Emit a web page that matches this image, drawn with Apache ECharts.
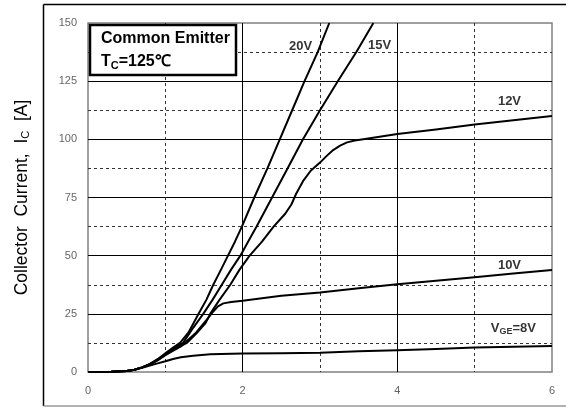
<!DOCTYPE html>
<html><head><meta charset="utf-8">
<script src="https://cdn.jsdelivr.net/npm/echarts@6/dist/echarts.min.js"></script>
<style>html,body{margin:0;padding:0;background:#fff}#c{width:566px;height:409px}</style>
</head><body><div id="c"></div>
<script>
// ---- data (V_CE [V], I_C [A]) ----
const vge20 = [[0,0],[0.3,0.1],[0.5,0.4],[0.6,1],[0.7,2],[0.8,3.5],[0.9,5.5],[1.0,8],[1.1,10.5],[1.19,12.5],[1.3,17],[1.43,25],[1.53,31],[1.62,37.5],[1.72,44],[1.81,50],[1.9,56],[1.99,62.5],[2.15,75],[2.32,87.5],[2.48,100],[2.64,112.5],[2.80,125],[2.97,137.5],[3.12,150]];
const vge15 = [[0,0],[0.3,0.1],[0.5,0.4],[0.6,1],[0.7,2],[0.8,3.4],[0.9,5.3],[1.0,7.7],[1.1,10],[1.23,12.5],[1.36,19],[1.49,25],[1.61,31],[1.73,37.5],[1.85,44],[1.97,50],[2.07,56],[2.18,62.5],[2.38,75],[2.58,87.5],[2.78,100],[3.0,112.5],[3.23,125],[3.47,137.5],[3.69,150]];
const vge12 = [[0,0],[0.3,0.1],[0.5,0.4],[0.6,1],[0.7,2],[0.8,3.3],[0.9,5.1],[1.0,7.4],[1.1,9.5],[1.28,12.5],[1.4,16.5],[1.52,21],[1.58,25],[1.7,31],[1.84,37.5],[1.96,44],[2.09,50],[2.25,56],[2.40,62.5],[2.55,68],[2.63,72],[2.69,76.5],[2.78,82],[2.88,86.5],[3.0,90],[3.09,93],[3.17,95.4],[3.26,97.3],[3.35,98.7],[3.45,99.5],[3.56,100],[3.75,101],[4.0,102.3],[4.5,104.2],[5.0,106.4],[5.5,108.2],[6,110]];
const vge10 = [[0,0],[0.3,0.1],[0.5,0.4],[0.6,1],[0.7,2],[0.8,3.2],[0.9,5],[1.0,7.2],[1.2,11],[1.4,17],[1.55,23],[1.62,26],[1.68,28.2],[1.75,29.5],[1.85,30.1],[2.0,30.6],[2.5,32.8],[3,34.2],[3.5,36],[4,37.7],[4.5,39.2],[5,40.7],[5.5,42.3],[6,43.8]];
const vge8 = [[0,0],[0.3,0.1],[0.5,0.4],[0.6,1],[0.7,1.8],[0.8,2.8],[0.9,3.7],[1.0,4.6],[1.1,5.6],[1.2,6.3],[1.36,7.0],[1.58,7.6],[2.0,7.9],[2.5,8.1],[3,8.3],[3.5,8.9],[4,9.4],[4.5,9.9],[5,10.5],[5.5,10.9],[6,11.2]];
const curveNames = ['20V','15V','12V','10V','8V'];
const curveLabels = ['20V','15V','12V','10V','{b|V}{s|GE}{b|=8V}'];
const labelAt = [[2.75,140.1],[3.77,140.5],[5.45,116.2],[5.45,45.6],[5.5,18.8]];
const xTickLabels = ['0','2','4','6'];
const yTickLabels = ['0','25','50','75','100','125','150'];

const chart = echarts.init(document.getElementById('c'));
const FONT = '"Liberation Sans", Arial, sans-serif';
const curves = [vge20, vge15, vge12, vge10, vge8];
const series = curves.map((d,i)=>({
  type:'line', name:curveNames[i], data:d, showSymbol:false, smooth:false,
  lineStyle:{color:'#000', width:2, join:'round'}, clip:true, animation:false, z:3
}));
series.push({
  type:'scatter', symbolSize:0, animation:false, silent:true, z:4,
  data: labelAt.map((p,i)=>({value:p, name:curveLabels[i]})),
  label:{show:true, position:'inside', formatter:p=>p.name, color:'#000',
    fontFamily:FONT, fontWeight:'bold', fontSize:13,
    rich:{b:{fontFamily:FONT,fontWeight:'bold',fontSize:13,color:'#000'},
          s:{fontFamily:FONT,fontWeight:'bold',fontSize:9,color:'#000',verticalAlign:'bottom',padding:[6,0,0,0]}}}
});

const minorLine = {show:true, lineStyle:{color:'#333', width:1, type:[3,3]}};
chart.setOption({
  animation:false,
  backgroundColor:'#fff',
  grid:{left:88, right:14, top:23, bottom:37, show:true, borderColor:'#808080', borderWidth:1.5, backgroundColor:'transparent'},
  xAxis:{type:'value', min:0, max:6, interval:2,
    axisLine:{show:false}, axisTick:{show:false},
    axisLabel:{color:'#666', fontFamily:FONT, fontSize:11, margin:13,
      formatter:(v)=>xTickLabels[Math.round(v/2)]},
    splitLine:{show:true, showMinLine:false, showMaxLine:false, lineStyle:{color:'#000', width:1}},
    minorTick:{show:false, splitNumber:2}, minorSplitLine:minorLine},
  yAxis:{type:'value', min:0, max:150, interval:25,
    axisLine:{show:false}, axisTick:{show:false},
    axisLabel:{color:'#666', fontFamily:FONT, fontSize:11, margin:11,
      formatter:(v)=>yTickLabels[Math.round(v/25)]},
    splitLine:{show:true, showMinLine:false, showMaxLine:false, lineStyle:{color:'#000', width:1}},
    minorTick:{show:false, splitNumber:2}, minorSplitLine:minorLine,
    name:'{n|Collector  Current,  I}{s|C}{n|  [A]}', nameLocation:'middle', nameGap:57, nameRotate:90,
    nameTextStyle:{rich:{n:{fontFamily:FONT, fontSize:17.5, color:'#000'}, s:{fontFamily:FONT, fontSize:11, color:'#000', verticalAlign:'bottom', padding:[7,0,0,0]}}}
  },
  series:series,
  graphic:[
    {type:'line', shape:{x1:43.5,y1:4.5,x2:566,y2:4.5}, style:{stroke:'#000',lineWidth:1.5}},
    {type:'line', shape:{x1:43.5,y1:4.5,x2:43.5,y2:406}, style:{stroke:'#000',lineWidth:1.5}},
    {type:'line', shape:{x1:43.5,y1:406,x2:566,y2:406}, style:{stroke:'#999',lineWidth:1.5}},
    {type:'rect', shape:{x:90,y:25,width:146,height:50}, style:{fill:'#fff',stroke:'#000',lineWidth:2.5}, z:10},
    {type:'text', x:101, y:31, z:11, style:{text:'Common Emitter', fill:'#000', font:'bold 16px '+FONT}},
    {type:'text', x:101, y:53, z:11, style:{text:'{b|T}{s|C}{b|=125℃}', fill:'#000',
      rich:{b:{font:'bold 16px '+FONT, fill:'#000'}, s:{font:'bold 11px '+FONT, fill:'#000', verticalAlign:'bottom', padding:[7,0,0,0]}}}}
  ]
});
</script></body></html>
